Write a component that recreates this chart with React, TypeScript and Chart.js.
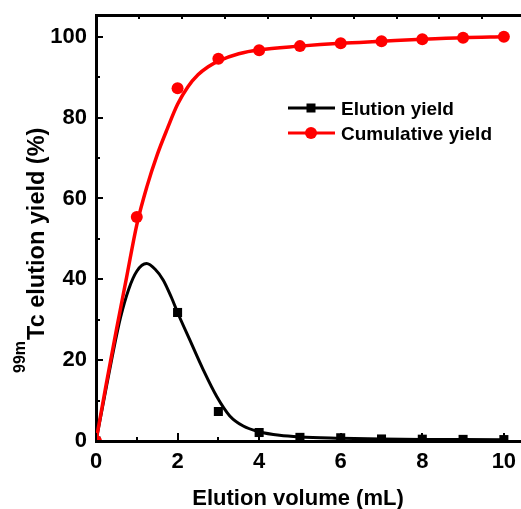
import React, { useEffect, useRef } from "react";
import { Chart, registerables } from "chart.js";

Chart.register(...registerables);

// ---- data ----
const volumes = [0, 1, 2, 3, 4, 5, 6, 7, 8, 9, 10];
const elutionYield: (number | null)[] = [0, null, 31.8, 7.3, 2.1, 0.9, 0.8, 0.5, 0.45, 0.4, 0.35];
const cumulativeYield = [0, 55.4, 87.3, 94.6, 96.7, 97.7, 98.4, 98.9, 99.4, 99.8, 100];

// fitted curves
const elutionFitX = [0, 0.2, 0.4, 0.6, 0.8, 1.0, 1.24, 1.45, 1.65, 1.85, 2.0, 2.3, 2.63, 2.96, 3.28, 3.61, 4.0, 4.5, 5, 6, 7, 8, 9, 10];
const elutionFitY = [0, 10.5, 21, 30.5, 37.5, 42, 43.9, 42.5, 39.8, 35.5, 31.8, 25, 17.6, 11, 6.2, 3.7, 2.3, 1.4, 1.0, 0.7, 0.5, 0.4, 0.35, 0.3];
const cumulativeFitX = [0, 0.25, 0.5, 0.75, 1.0, 1.25, 1.5, 1.75, 2.0, 2.25, 2.5, 2.75, 3.0, 3.5, 4, 5, 6, 7, 8, 9, 10];
const cumulativeFitY = [0, 14, 27.5, 40.5, 53.5, 63, 70.8, 77.3, 83.3, 87.6, 90.6, 92.6, 94.0, 95.8, 96.8, 97.7, 98.4, 98.9, 99.4, 99.8, 100];

// ticks
const xMajorTicks = [0, 2, 4, 6, 8, 10];
const xMinorTicks = [1, 3, 5, 7, 9];
const yMajorTicks = [0, 20, 40, 60, 80, 100];
const yMinorTicks = [10, 30, 50, 70, 90];
const topTicks = [1, 2, 3, 4, 5, 6, 7, 8, 9];

const legendLabels = ["Elution yield", "Cumulative yield"];
const xTitle = "Elution volume (mL)";
const yTitleSup = "99m";
const yTitleMain = "Tc elution yield (%)";

const FONT = "'Liberation Sans', Arial, sans-serif";
const RED = "#ff0000";
const BLACK = "#000000";
const W = 521;
const H = 509;

const decorPlugin = {
  id: "decor",
  afterDraw(chart: any) {
    const ctx: CanvasRenderingContext2D = chart.ctx;
    const xs = chart.scales.x;
    const ys = chart.scales.y;
    const xt = chart.scales.x2;
    const a = chart.chartArea;
    ctx.save();
    ctx.strokeStyle = BLACK;
    ctx.lineWidth = 2;
    const seg = (x1: number, y1: number, x2: number, y2: number) => {
      ctx.beginPath();
      ctx.moveTo(x1, y1);
      ctx.lineTo(x2, y2);
      ctx.stroke();
    };
    xMajorTicks.forEach((v) => {
      const p = Math.round(xs.getPixelForValue(v));
      seg(p, a.bottom, p, a.bottom - 8);
    });
    xMinorTicks.forEach((v) => {
      const p = Math.round(xs.getPixelForValue(v));
      seg(p, a.bottom, p, a.bottom - 4);
    });
    yMajorTicks.forEach((v) => {
      const p = Math.round(ys.getPixelForValue(v));
      seg(a.left, p, a.left + 7, p);
    });
    yMinorTicks.forEach((v) => {
      const p = Math.round(ys.getPixelForValue(v));
      seg(a.left, p, a.left + 4, p);
    });
    topTicks.forEach((v) => {
      const p = Math.round(xt.getPixelForValue(v));
      seg(p, a.top, p, a.top + 4);
    });

    // x tick labels
    ctx.fillStyle = BLACK;
    ctx.font = `bold 22px ${FONT}`;
    ctx.textAlign = "center";
    ctx.textBaseline = "middle";
    xMajorTicks.forEach((v) => {
      ctx.fillText(String(v), xs.getPixelForValue(v), a.bottom + 21);
    });

    // x title
    ctx.textBaseline = "alphabetic";
    ctx.fillText(xTitle, 298, 505);

    // y title with superscript
    ctx.save();
    ctx.translate(44, 373);
    ctx.rotate(-Math.PI / 2);
    ctx.textAlign = "left";
    ctx.font = `bold 16px ${FONT}`;
    const supW = ctx.measureText(yTitleSup).width;
    ctx.fillText(yTitleSup, 0, -19);
    ctx.font = `bold 23.5px ${FONT}`;
    ctx.fillText(yTitleMain, supW + 1, 0);
    ctx.restore();

    // legend
    const rows = [
      { label: legendLabels[0], color: BLACK, y: 108, marker: "rect" },
      { label: legendLabels[1], color: RED, y: 133, marker: "circle" },
    ];
    rows.forEach((r) => {
      ctx.strokeStyle = r.color;
      ctx.fillStyle = r.color;
      ctx.lineWidth = 3;
      seg(288, r.y, 335, r.y);
      if (r.marker === "rect") {
        ctx.fillRect(311 - 4.5, r.y - 4.5, 9, 9);
      } else {
        ctx.beginPath();
        ctx.arc(311, r.y, 6, 0, Math.PI * 2);
        ctx.fill();
      }
      ctx.fillStyle = BLACK;
      ctx.font = `bold 19px ${FONT}`;
      ctx.textAlign = "left";
      ctx.textBaseline = "alphabetic";
      ctx.fillText(r.label, 341, r.y + 7);
    });
    ctx.restore();
  },
};

export default function App() {
  const ref = useRef<HTMLCanvasElement | null>(null);

  useEffect(() => {
    if (!ref.current) return;
    const tickFont = { family: FONT, weight: "bold" as const, size: 22 };
    const chart = new Chart(ref.current, {
      type: "line",
      data: {
        datasets: [
          {
            label: "Cumulative points",
            data: volumes.map((v, i) => ({ x: v, y: cumulativeYield[i] })),
            showLine: false,
            pointStyle: "circle",
            pointRadius: 6,
            pointBackgroundColor: RED,
            pointBorderColor: RED,
            pointBorderWidth: 0,
          },
          {
            label: "Cumulative fit",
            data: cumulativeFitX.map((v, i) => ({ x: v, y: cumulativeFitY[i] })),
            borderColor: RED,
            borderWidth: 3.5,
            pointRadius: 0,
            cubicInterpolationMode: "monotone",
            fill: false,
          },
          {
            label: "Elution points",
            data: volumes.map((v, i) => ({ x: v, y: elutionYield[i] })),
            showLine: false,
            pointStyle: "rect",
            pointRadius: 6.4,
            pointBackgroundColor: BLACK,
            pointBorderColor: BLACK,
            pointBorderWidth: 0,
          },
          {
            label: "Elution fit",
            data: elutionFitX.map((v, i) => ({ x: v, y: elutionFitY[i] })),
            borderColor: BLACK,
            borderWidth: 3,
            pointRadius: 0,
            cubicInterpolationMode: "monotone",
            fill: false,
          },
        ],
      },
      options: {
        animation: false,
        responsive: false,
        maintainAspectRatio: false,
        devicePixelRatio: 1,
        layout: { padding: 0, autoPadding: false },
        plugins: {
          legend: { display: false },
          tooltip: { enabled: false },
          title: { display: false },
        },
        scales: {
          x: {
            type: "linear",
            position: "bottom",
            min: 0,
            max: 10.42,
            afterBuildTicks: (s: any) => {
              s.ticks = xMajorTicks.map((v) => ({ value: v }));
            },
            afterFit: (s: any) => {
              s.height = 68;
            },
            grid: { display: false, drawTicks: false },
            border: { display: true, color: BLACK, width: 3 },
            ticks: { display: false },
          },
          x2: {
            type: "linear",
            position: "top",
            min: 0,
            max: 9.9,
            afterFit: (s: any) => {
              s.height = 15;
            },
            grid: { display: false, drawTicks: false },
            border: { display: true, color: BLACK, width: 3 },
            ticks: { display: false },
          },
          y: {
            type: "linear",
            position: "left",
            min: 0,
            max: 105.4,
            afterBuildTicks: (s: any) => {
              s.ticks = yMajorTicks.map((v) => ({ value: v }));
            },
            afterFit: (s: any) => {
              s.width = 96;
              s.paddingTop = 0;
              s.paddingBottom = 0;
            },
            grid: { display: false, drawTicks: true, tickLength: 9 },
            border: { display: true, color: BLACK, width: 3 },
            ticks: { color: BLACK, font: tickFont, padding: 0, autoSkip: false },
          },
        },
      },
      plugins: [decorPlugin],
    } as any);
    return () => chart.destroy();
  }, []);

  return (
    <div style={{ position: "fixed", left: 0, top: 0, width: W, height: H, background: "#fff" }}>
      <canvas ref={ref} width={W} height={H} style={{ display: "block", width: W, height: H }} />
    </div>
  );
}
